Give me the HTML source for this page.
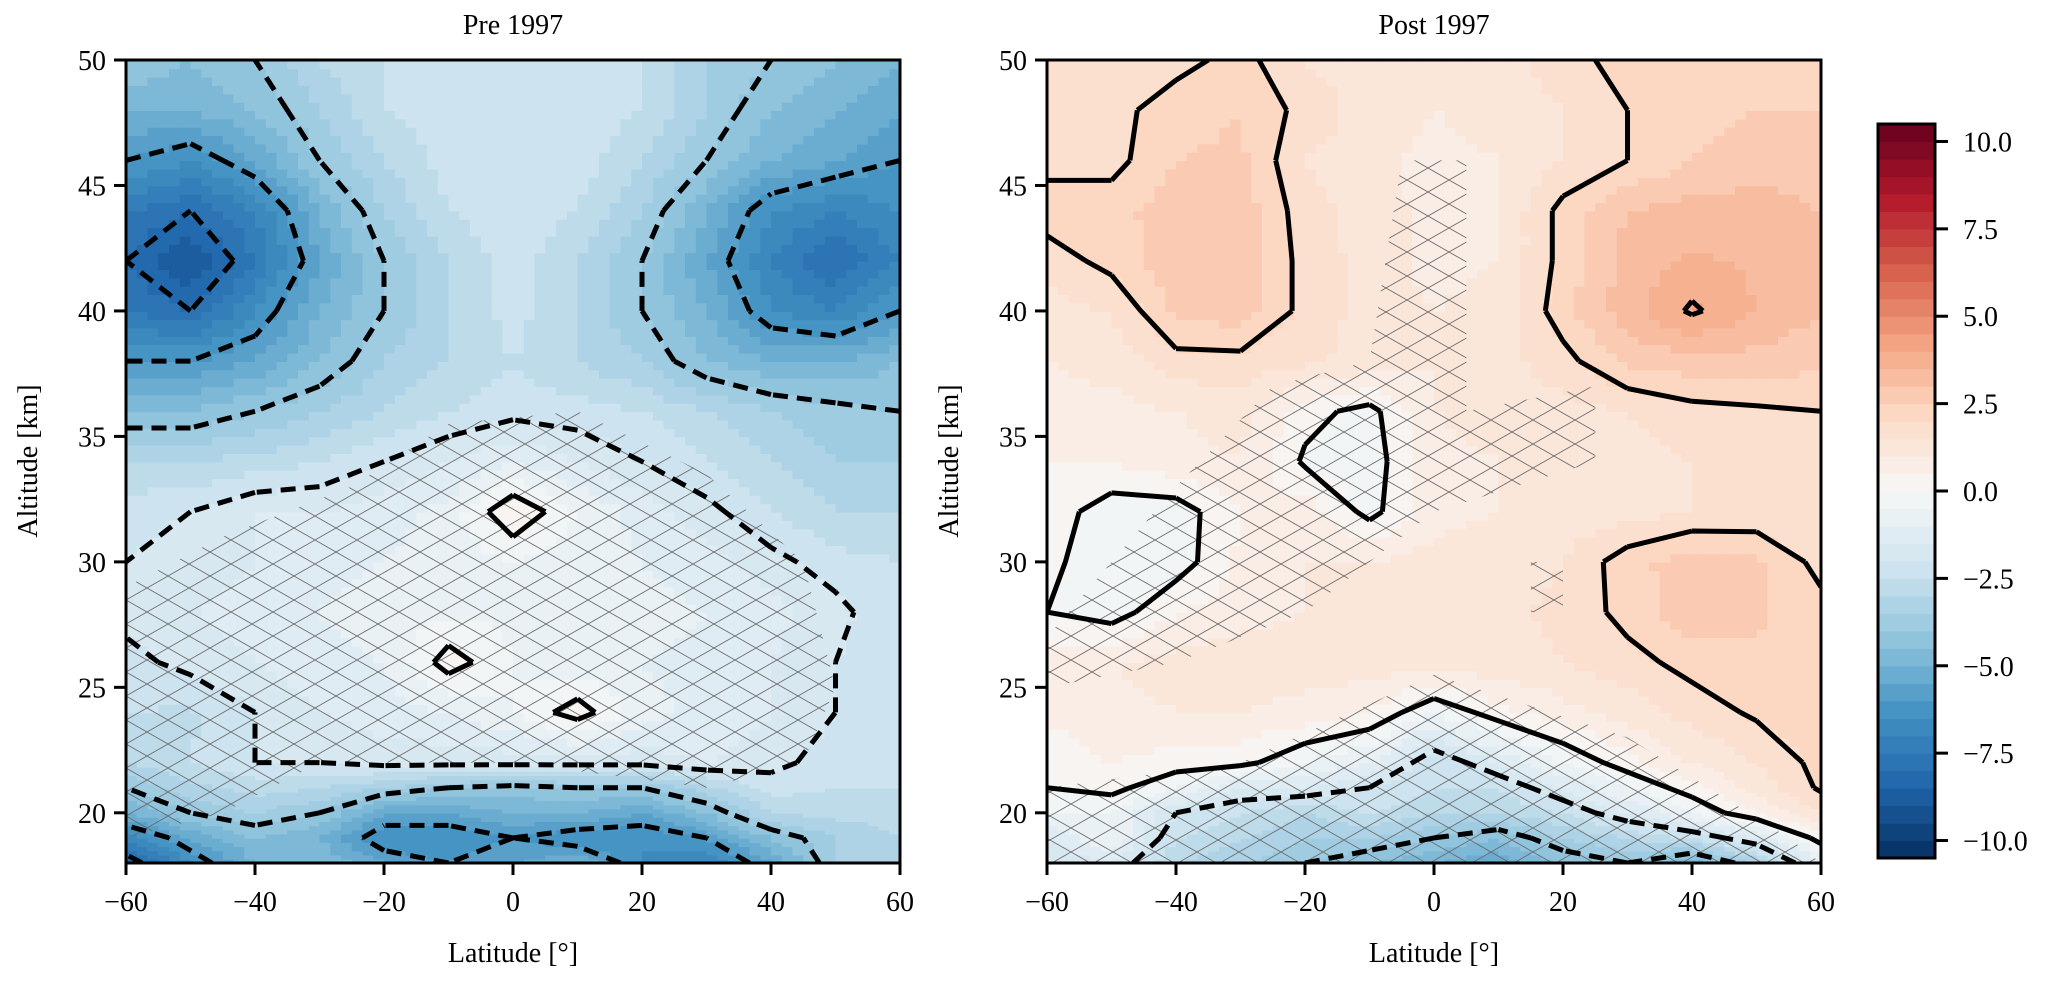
<!DOCTYPE html>
<html><head><meta charset="utf-8">
<style>
html,body{margin:0;padding:0;background:#fff;}
svg{display:block;font-family:"Liberation Serif","DejaVu Serif",serif;}
</style></head>
<body>
<svg id="fig" width="2057" height="981" viewBox="0 0 2057 981" xmlns="http://www.w3.org/2000/svg">
<defs>
<pattern id="hatch" patternUnits="userSpaceOnUse" width="42" height="24">
<path d="M0,0 L42,24 M0,24 L42,0" stroke="#666" stroke-width="0.8" fill="none"/>
</pattern>
<clipPath id="clipL"><rect x="126" y="60" width="774" height="803"/></clipPath>
<clipPath id="clipR"><rect x="1047" y="60" width="774" height="803"/></clipPath>
</defs>
<g id="panelL" clip-path="url(#clipL)"></g>
<g id="panelR" clip-path="url(#clipR)"></g>
<g id="axesL"></g>
<g id="axesR"></g>
<text x="513" y="34" font-size="28" text-anchor="middle">Pre 1997</text>
<text x="1434" y="34" font-size="28" text-anchor="middle">Post 1997</text>
<text x="513" y="962" font-size="28" text-anchor="middle">Latitude [°]</text>
<text x="1434" y="962" font-size="28" text-anchor="middle">Latitude [°]</text>
<text transform="translate(37,461) rotate(-90)" font-size="28" text-anchor="middle">Altitude [km]</text>
<text transform="translate(958,461) rotate(-90)" font-size="28" text-anchor="middle">Altitude [km]</text>
<g id="cbar"></g>
</svg>
<script>
const lats=[-60,-50,-40,-30,-20,-10,0,10,20,30,40,50,60];
const alts=[18,19,20,21,22,24,26,28,30,32,34,36,38,40,42,44,46,48,50];
const preVals=[
[-8.5,-6.5,-5,-4.5,-5.5,-6,-5.5,-5,-6.5,-7,-5.5,-3.5,-3],
[-7,-5.5,-4.5,-5,-6.5,-6.5,-6,-6.5,-6.5,-6,-4.5,-3.5,-3],
[-5,-4,-3.5,-4,-5.5,-5.5,-5,-5,-5.5,-4.5,-3,-2.8,-2.8],
[-4,-3.2,-2.8,-3,-3.5,-4,-4.2,-4,-4,-3.2,-2.3,-2.5,-2.5],
[-3,-2.5,-2,-2,-1.8,-1.8,-1.8,-1.8,-1.8,-1.5,-1.8,-2.3,-2.5],
[-2.5,-2.6,-2,-1.5,-1.2,-1,-0.5,0.3,-0.8,-1.2,-1.5,-2,-2.5],
[-2.2,-1.8,-1.5,-1.2,-1,0.3,-0.5,-0.8,-1,-1.2,-1.5,-2,-2.5],
[-1.8,-1.5,-1.3,-1,-0.8,-0.6,-0.6,-0.7,-0.8,-1,-1.3,-1.8,-2.5],
[-2,-1.8,-1.5,-1.2,-1,-0.8,-0.5,-0.8,-1,-1.3,-1.8,-2.3,-2.5],
[-2.2,-2,-1.5,-1.5,-1.2,-0.8,0.5,-0.5,-1.2,-1.8,-2.5,-3,-3],
[-3,-3,-2.8,-2.5,-2,-1.5,-1,-1.5,-2,-2.5,-3,-3.5,-3.5],
[-4.5,-4.5,-4,-3.5,-3,-2.5,-2.2,-2.3,-2.5,-3,-3.5,-3.8,-4],
[-6,-6,-5.5,-4.5,-3.5,-3,-2.5,-3,-3.5,-4.5,-5,-5,-4.5],
[-7.5,-8,-6.5,-5,-4,-3,-2.3,-3,-4,-5,-6.5,-7,-6],
[-8,-9,-7.5,-5.5,-4,-3,-2.2,-3,-4,-5.5,-7,-8,-7],
[-7.5,-8,-7,-5,-3.5,-2.5,-2.2,-2.5,-3.5,-5,-6.5,-7,-6.5],
[-6,-6.5,-5.5,-4,-3,-2.3,-2.1,-2.2,-3,-4,-5,-5.5,-6],
[-5,-5,-4.5,-3.5,-2.5,-2.2,-2.1,-2.2,-2.5,-3.5,-4.5,-5,-5.5],
[-4,-4.5,-4,-3,-2.5,-2.2,-2.2,-2.2,-2.5,-3.5,-4,-4.5,-5]];
const postVals=[
[-2,-1.5,-3,-3.5,-4,-4.5,-5,-5.5,-4.5,-4,-5,-3.5,-1],
[-1.5,-0.5,-2.5,-3,-3.5,-3.5,-4,-4.5,-3.5,-3,-2.5,-1.5,0.3],
[-0.5,-0.5,-2,-2.5,-3,-2.5,-3,-3,-2.5,-1.5,-0.5,0.5,1.5],
[0,0.2,-0.5,-1.5,-1.5,-2,-2.5,-2.5,-1.5,-0.5,0.3,1.2,2.1],
[0.2,0.5,0.3,0.2,-0.5,-1,-2.5,-1.5,-0.5,0.3,1,1.5,2.2],
[0.6,0.8,1,1,0.8,0.5,-0.5,0.3,0.8,1.2,1.7,2.1,2.3],
[0.8,1,1.2,1.3,1.3,1.3,1.3,1.3,1.5,1.8,2.2,2.4,2.3],
[0,-0.3,0.5,0.8,1,1.2,1.3,1.4,1.6,2.2,2.8,2.6,2.2],
[0.2,-0.5,-0.3,0.6,1,1,1.2,1.3,1.5,2.3,2.8,2.6,1.8],
[0.3,-0.3,-0.3,0.5,0.8,-0.2,0.8,1,1.2,1.3,1.5,1.6,1.5],
[0.5,0.5,0.8,1,-0.1,-0.3,0.8,1,1.2,1.3,1.5,1.6,1.5],
[0.8,0.8,1,1.2,0.2,-0.2,1,1.2,1.3,1.5,1.8,1.9,2],
[1,1.2,1.8,1.8,1.6,1.3,1,1.3,1.8,2.6,2.8,2.8,2.6],
[1.3,1.5,2.6,2.8,1.8,1.3,1,1.2,2.3,3.3,4.1,3.5,3],
[1.7,2.2,2.8,2.8,1.8,1.3,0.8,1,2.2,3.2,3.6,3.4,3],
[2.3,2.3,2.8,2.8,1.7,1.3,0.8,1,2.2,3,3.2,3.2,3],
[1.8,1.8,2.5,2.6,1.5,1.2,0.8,1,1.5,2,2.5,2.8,2.8],
[1.8,1.8,2.3,2.5,1.8,1.3,1,1.2,1.5,2,2.3,2.5,2.5],
[1.5,1.5,1.8,2.2,1.5,1.2,1,1.2,1.8,2.2,2.2,2.3,2.3]];
const contourLevels=[-8,-6,-4,-2,0,2,4];
const xTicks=[-60,-40,-20,0,20,40,60];
const yTicks=[20,25,30,35,40,45,50];
const cbTicks=[-10,-7.5,-5,-2.5,0,2.5,5,7.5,10];
const hatchL=[[[-60,29],[-45,31],[-25,33],[-10,35.5],[10,36],[30,33.5],[45,30],[50,25],[45,22],[30,21],[0,22],[-30,22],[-45,20],[-60,19]]];
const hatchR=[[[-60,27],[-40,33],[-25,37],[-10,38],[-5,46],[5,46],[5,36],[25,37],[25,34],[0,32],[-20,28],[-40,26],[-60,25]],
 [[-60,21],[-30,22],[0,25.5],[30,23],[55,19],[60,18],[-60,18]],[[15,30],[20,30],[20,28],[15,28]]];

const NS='http://www.w3.org/2000/svg';
const Y0=60,Y1=863,ALO=18,AHI=50;
function mk(tag,attrs,parent){const e=document.createElementNS(NS,tag);for(const k in attrs)e.setAttribute(k,attrs[k]);parent.appendChild(e);return e;}
const anchors=['#053061','#2166ac','#4393c3','#92c5de','#d1e5f0','#f7f7f7','#fddbc7','#f4a582','#d6604d','#b2182b','#67001f'];
function hex(h){return [parseInt(h.slice(1,3),16),parseInt(h.slice(3,5),16),parseInt(h.slice(5,7),16)];}
function cmap(v){let t=(v+10.5)/21*10;t=Math.max(0,Math.min(9.9999,t));const i=Math.floor(t),f=t-i;const a=hex(anchors[i]),b=hex(anchors[i+1]);
return 'rgb('+a.map((c,k)=>Math.round(c+(b[k]-c)*f)).join(',')+')';}
function quant(v){return Math.floor(v/0.5)*0.5+0.25;}

function drawPanel(gid,axid,X0,vals,hatch){
 const g=document.getElementById(gid), ax=document.getElementById(axid);
 const xs=lat=>X0+(lat+60)/120*774;
 const ys=a=>Y1-(a-ALO)/(AHI-ALO)*(Y1-Y0);
 const N=6;
 for(let j=0;j<alts.length-1;j++)for(let i=0;i<lats.length-1;i++){
  const v00=vals[j][i],v10=vals[j][i+1],v01=vals[j+1][i],v11=vals[j+1][i+1];
  const xa=xs(lats[i]),xb=xs(lats[i+1]),ya=ys(alts[j]),yb=ys(alts[j+1]);
  for(let p=0;p<N;p++)for(let q=0;q<N;q++){
   const u=(p+0.5)/N,w=(q+0.5)/N;
   const v=v00*(1-u)*(1-w)+v10*u*(1-w)+v01*(1-u)*w+v11*u*w;
   const x=xa+(xb-xa)*p/N, y=ya+(yb-ya)*(q+1)/N;
   const r=mk('rect',{x:x.toFixed(1),y:y.toFixed(1),width:((xb-xa)/N+0.8).toFixed(1),height:((ya-yb)/N+0.8).toFixed(1),fill:cmap(quant(v))},g);
   
   
  }
 }
 hatch.forEach(poly=>{
  const h=mk('polygon',{points:poly.map(p=>xs(p[0]).toFixed(1)+','+ys(p[1]).toFixed(1)).join(' '),fill:'url(#hatch)'},g);
  
  
 });
 contourLevels.forEach(L=>{
  let d='';
  for(let j=0;j<alts.length-1;j++)for(let i=0;i<lats.length-1;i++){
   const c=[[lats[i],alts[j],vals[j][i]],[lats[i+1],alts[j],vals[j][i+1]],[lats[i+1],alts[j+1],vals[j+1][i+1]],[lats[i],alts[j+1],vals[j+1][i]]];
   const pts=[];
   for(let k=0;k<4;k++){const a=c[k],b=c[(k+1)%4];
    if((a[2]>=L)!==(b[2]>=L)){const t=(L-a[2])/(b[2]-a[2]);pts.push([a[0]+(b[0]-a[0])*t,a[1]+(b[1]-a[1])*t]);}}
   for(let k=0;k+1<pts.length;k+=2){
    d+='M'+xs(pts[k][0]).toFixed(1)+','+ys(pts[k][1]).toFixed(1)+'L'+xs(pts[k+1][0]).toFixed(1)+','+ys(pts[k+1][1]).toFixed(1);}
  }
  if(d){const pth=mk('path',{d:d,fill:'none',stroke:'#000','stroke-width':5,'stroke-linecap':'butt','stroke-linejoin':'round'},g);
   if(L<0)pth.setAttribute('stroke-dasharray','15 9');
   
   }
 });
 mk('rect',{x:X0,y:Y0,width:774,height:Y1-Y0,fill:'none',stroke:'#000','stroke-width':3},ax);
 xTicks.forEach(t=>{const x=xs(t);
  mk('line',{x1:x,x2:x,y1:Y1,y2:Y1+12,stroke:'#000','stroke-width':3},ax);
  const tx=mk('text',{x:x,y:Y1+48,'font-size':28,'text-anchor':'middle'},ax);tx.textContent=(t<0?'\u2212':'')+Math.abs(t);
  
  });
 yTicks.forEach(t=>{const y=ys(t);
  mk('line',{x1:X0-12,x2:X0,y1:y,y2:y,stroke:'#000','stroke-width':3},ax);
  const tx=mk('text',{x:X0-20,y:y+10,'font-size':28,'text-anchor':'end'},ax);tx.textContent=t;
  
  });
}
drawPanel('panelL','axesL',126,preVals,hatchL);
drawPanel('panelR','axesR',1047,postVals,hatchR);

(function(){
 const g=document.getElementById('cbar');const CX=1878,CW=57,CT=124,CB=858;
 const cy=v=>CB-(v+10.5)/21*(CB-CT);
 for(let v=-10.5;v<10.5;v+=0.5){
  const r=mk('rect',{x:CX,y:cy(v+0.5).toFixed(1),width:CW,height:((CB-CT)/42+0.6).toFixed(1),fill:cmap(v+0.25)},g);
  
  
 }
 mk('rect',{x:CX,y:CT,width:CW,height:CB-CT,fill:'none',stroke:'#000','stroke-width':3},g);
 cbTicks.forEach(t=>{const y=cy(t);
  mk('line',{x1:CX+CW,x2:CX+CW+13,y1:y,y2:y,stroke:'#000','stroke-width':3},g);
  const tx=mk('text',{x:1963,y:y+10,'font-size':28},g);tx.textContent=(t<0?'\u2212':'')+Math.abs(t).toFixed(1);
  
  });
})();
</script>
</body></html>
